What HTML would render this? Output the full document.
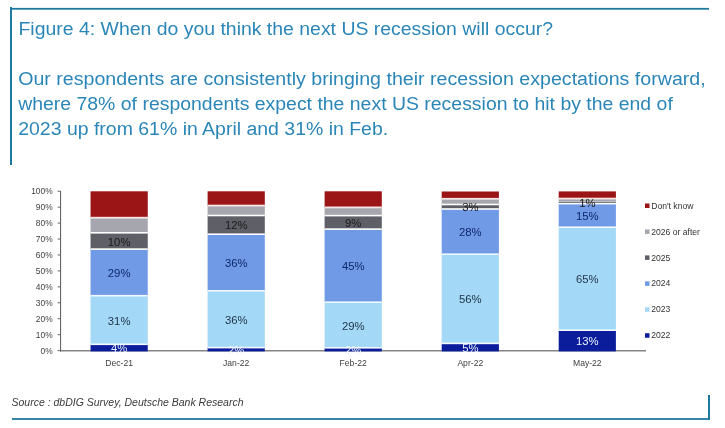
<!DOCTYPE html>
<html><head><meta charset="utf-8"><style>
html,body{margin:0;padding:0;background:#fff;width:725px;height:428px;overflow:hidden}
svg{display:block;filter:blur(0.3px)}
text{font-family:"Liberation Sans",sans-serif}
</style></head><body>
<svg width="725" height="428" viewBox="0 0 725 428">
<rect x="0" y="0" width="725" height="428" fill="#fff"/>

<rect x="10" y="7.9" width="699" height="1.8" fill="#1f7aa0"/>
<rect x="10" y="7" width="2" height="158" fill="#1f7aa0"/>
<rect x="12" y="418.1" width="698" height="1.8" fill="#1f7aa0"/>
<rect x="708" y="395" width="2" height="25" fill="#1f7aa0"/>
<text x="18.5" y="34.5" font-size="17.6" fill="#2b86b8" textLength="534.5" lengthAdjust="spacingAndGlyphs" >Figure 4: When do you think the next US recession will occur?</text>
<text x="18.2" y="84.9" font-size="17.6" fill="#2b86b8" textLength="687.5" lengthAdjust="spacingAndGlyphs" >Our respondents are consistently bringing their recession expectations forward,</text>
<text x="18.2" y="109.7" font-size="17.6" fill="#2b86b8" textLength="654.6" lengthAdjust="spacingAndGlyphs" >where 78% of respondents expect the next US recession to hit by the end of</text>
<text x="18.2" y="134.5" font-size="17.6" fill="#2b86b8" textLength="370" lengthAdjust="spacingAndGlyphs" >2023 up from 61% in April and 31% in Feb.</text>
<text x="11.5" y="405.7" font-size="11.4" fill="#3a3a3a" font-style="italic" textLength="232" lengthAdjust="spacingAndGlyphs">Source : dbDIG Survey, Deutsche Bank Research</text>
<rect x="60" y="191" width="1.1" height="160.5" fill="#666666"/>
<rect x="57.6" y="350.10" width="3" height="1" fill="#666666"/>
<text x="52.6" y="353.50" font-size="8.4" fill="#404040" text-anchor="end">0%</text>
<rect x="57.6" y="334.16" width="3" height="1" fill="#666666"/>
<text x="52.6" y="337.56" font-size="8.4" fill="#404040" text-anchor="end">10%</text>
<rect x="57.6" y="318.22" width="3" height="1" fill="#666666"/>
<text x="52.6" y="321.62" font-size="8.4" fill="#404040" text-anchor="end">20%</text>
<rect x="57.6" y="302.28" width="3" height="1" fill="#666666"/>
<text x="52.6" y="305.68" font-size="8.4" fill="#404040" text-anchor="end">30%</text>
<rect x="57.6" y="286.34" width="3" height="1" fill="#666666"/>
<text x="52.6" y="289.74" font-size="8.4" fill="#404040" text-anchor="end">40%</text>
<rect x="57.6" y="270.40" width="3" height="1" fill="#666666"/>
<text x="52.6" y="273.80" font-size="8.4" fill="#404040" text-anchor="end">50%</text>
<rect x="57.6" y="254.46" width="3" height="1" fill="#666666"/>
<text x="52.6" y="257.86" font-size="8.4" fill="#404040" text-anchor="end">60%</text>
<rect x="57.6" y="238.52" width="3" height="1" fill="#666666"/>
<text x="52.6" y="241.92" font-size="8.4" fill="#404040" text-anchor="end">70%</text>
<rect x="57.6" y="222.58" width="3" height="1" fill="#666666"/>
<text x="52.6" y="225.98" font-size="8.4" fill="#404040" text-anchor="end">80%</text>
<rect x="57.6" y="206.64" width="3" height="1" fill="#666666"/>
<text x="52.6" y="210.04" font-size="8.4" fill="#404040" text-anchor="end">90%</text>
<rect x="57.6" y="190.70" width="3" height="1" fill="#666666"/>
<text x="52.6" y="194.10" font-size="8.4" fill="#404040" text-anchor="end">100%</text>
<rect x="60" y="350.2" width="586" height="1.2" fill="#666666"/>
<rect x="90.55" y="344.3" width="57.2" height="7.10" fill="#0c1d9c"/>
<rect x="90.55" y="295.7" width="57.2" height="48.60" fill="#a3d8f6"/>
<rect x="90.55" y="249.1" width="57.2" height="46.60" fill="#7099e6"/>
<rect x="90.55" y="232.8" width="57.2" height="16.30" fill="#5e5f67"/>
<rect x="90.55" y="217.7" width="57.2" height="15.10" fill="#a6a6ae"/>
<rect x="90.55" y="191.3" width="57.2" height="26.40" fill="#9b1517"/>
<rect x="90.55" y="343.50" width="57.2" height="1.6" fill="#f4fbff"/>
<rect x="90.55" y="294.90" width="57.2" height="1.6" fill="#f2f9ff"/>
<rect x="90.55" y="248.30" width="57.2" height="1.6" fill="#ffffff"/>
<rect x="90.55" y="232.00" width="57.2" height="1.6" fill="#ffffff"/>
<rect x="90.55" y="216.80" width="57.2" height="1.8" fill="#f6e6e6"/>
<text x="119.15" y="352.45" font-size="11.3" fill="#eaf3fd" text-anchor="middle">4%</text>
<text x="119.15" y="324.60" font-size="11.3" fill="#1d3246" text-anchor="middle">31%</text>
<text x="119.15" y="277.00" font-size="11.3" fill="#10296a" text-anchor="middle">29%</text>
<text x="119.15" y="245.55" font-size="11.3" fill="#1a1a1a" text-anchor="middle">10%</text>
<text x="119.15" y="365.8" font-size="8.6" fill="#404040" text-anchor="middle">Dec-21</text>
<rect x="207.6" y="347.6" width="57.2" height="3.80" fill="#0c1d9c"/>
<rect x="207.6" y="290.8" width="57.2" height="56.80" fill="#a3d8f6"/>
<rect x="207.6" y="234.2" width="57.2" height="56.60" fill="#7099e6"/>
<rect x="207.6" y="215.5" width="57.2" height="18.70" fill="#5e5f67"/>
<rect x="207.6" y="205.6" width="57.2" height="9.90" fill="#a6a6ae"/>
<rect x="207.6" y="191.3" width="57.2" height="14.30" fill="#9b1517"/>
<rect x="207.6" y="346.80" width="57.2" height="1.6" fill="#f4fbff"/>
<rect x="207.6" y="290.00" width="57.2" height="1.6" fill="#f2f9ff"/>
<rect x="207.6" y="233.40" width="57.2" height="1.6" fill="#ffffff"/>
<rect x="207.6" y="214.70" width="57.2" height="1.6" fill="#ffffff"/>
<rect x="207.6" y="204.70" width="57.2" height="1.8" fill="#f6e6e6"/>
<text x="236.20" y="354.10" font-size="11.3" fill="#eaf3fd" text-anchor="middle">2%</text>
<text x="236.20" y="323.80" font-size="11.3" fill="#1d3246" text-anchor="middle">36%</text>
<text x="236.20" y="267.10" font-size="11.3" fill="#10296a" text-anchor="middle">36%</text>
<text x="236.20" y="229.45" font-size="11.3" fill="#1a1a1a" text-anchor="middle">12%</text>
<text x="236.20" y="365.8" font-size="8.6" fill="#404040" text-anchor="middle">Jan-22</text>
<rect x="324.6" y="347.8" width="57.2" height="3.60" fill="#0c1d9c"/>
<rect x="324.6" y="302.2" width="57.2" height="45.60" fill="#a3d8f6"/>
<rect x="324.6" y="229.1" width="57.2" height="73.10" fill="#7099e6"/>
<rect x="324.6" y="215.6" width="57.2" height="13.50" fill="#5e5f67"/>
<rect x="324.6" y="207.4" width="57.2" height="8.20" fill="#a6a6ae"/>
<rect x="324.6" y="191.3" width="57.2" height="16.10" fill="#9b1517"/>
<rect x="324.6" y="347.00" width="57.2" height="1.6" fill="#f4fbff"/>
<rect x="324.6" y="301.40" width="57.2" height="1.6" fill="#f2f9ff"/>
<rect x="324.6" y="228.30" width="57.2" height="1.6" fill="#ffffff"/>
<rect x="324.6" y="214.80" width="57.2" height="1.6" fill="#ffffff"/>
<rect x="324.6" y="206.50" width="57.2" height="1.8" fill="#f6e6e6"/>
<text x="353.20" y="354.20" font-size="11.3" fill="#eaf3fd" text-anchor="middle">2%</text>
<text x="353.20" y="329.60" font-size="11.3" fill="#1d3246" text-anchor="middle">29%</text>
<text x="353.20" y="270.25" font-size="11.3" fill="#10296a" text-anchor="middle">45%</text>
<text x="353.20" y="226.95" font-size="11.3" fill="#1a1a1a" text-anchor="middle">9%</text>
<text x="353.20" y="365.8" font-size="8.6" fill="#404040" text-anchor="middle">Feb-22</text>
<rect x="441.7" y="343.4" width="57.2" height="8.00" fill="#0c1d9c"/>
<rect x="441.7" y="254.2" width="57.2" height="89.20" fill="#a3d8f6"/>
<rect x="441.7" y="209.0" width="57.2" height="45.20" fill="#7099e6"/>
<rect x="441.7" y="204.5" width="57.2" height="4.50" fill="#5e5f67"/>
<rect x="441.7" y="198.8" width="57.2" height="5.70" fill="#a6a6ae"/>
<rect x="441.7" y="191.5" width="57.2" height="7.30" fill="#9b1517"/>
<rect x="441.7" y="342.60" width="57.2" height="1.6" fill="#f4fbff"/>
<rect x="441.7" y="253.40" width="57.2" height="1.6" fill="#f2f9ff"/>
<rect x="441.7" y="208.20" width="57.2" height="1.6" fill="#ffffff"/>
<rect x="441.7" y="203.70" width="57.2" height="1.6" fill="#ffffff"/>
<rect x="441.7" y="197.90" width="57.2" height="1.8" fill="#f6e6e6"/>
<text x="470.30" y="352.00" font-size="11.3" fill="#eaf3fd" text-anchor="middle">5%</text>
<text x="470.30" y="303.40" font-size="11.3" fill="#1d3246" text-anchor="middle">56%</text>
<text x="470.30" y="236.20" font-size="11.3" fill="#10296a" text-anchor="middle">28%</text>
<text x="470.30" y="211.35" font-size="11.3" fill="#1a1a1a" text-anchor="middle">3%</text>
<text x="470.30" y="365.8" font-size="8.6" fill="#404040" text-anchor="middle">Apr-22</text>
<rect x="558.7" y="330.2" width="57.2" height="21.20" fill="#0c1d9c"/>
<rect x="558.7" y="227.2" width="57.2" height="103.00" fill="#a3d8f6"/>
<rect x="558.7" y="203.6" width="57.2" height="23.60" fill="#7099e6"/>
<rect x="558.7" y="201.4" width="57.2" height="2.20" fill="#5e5f67"/>
<rect x="558.7" y="198.6" width="57.2" height="2.80" fill="#a6a6ae"/>
<rect x="558.7" y="191.4" width="57.2" height="7.20" fill="#9b1517"/>
<rect x="558.7" y="329.40" width="57.2" height="1.6" fill="#f4fbff"/>
<rect x="558.7" y="226.40" width="57.2" height="1.6" fill="#f2f9ff"/>
<rect x="558.7" y="202.80" width="57.2" height="1.6" fill="#ffffff"/>
<rect x="558.7" y="201.25" width="57.2" height="0.3" fill="#ffffff"/>
<rect x="558.7" y="197.70" width="57.2" height="1.8" fill="#f6e6e6"/>
<text x="587.30" y="345.40" font-size="11.3" fill="#eaf3fd" text-anchor="middle">13%</text>
<text x="587.30" y="283.30" font-size="11.3" fill="#1d3246" text-anchor="middle">65%</text>
<text x="587.30" y="220.00" font-size="11.3" fill="#10296a" text-anchor="middle">15%</text>
<text x="587.30" y="207.10" font-size="11.3" fill="#1a1a1a" text-anchor="middle">1%</text>
<text x="587.30" y="365.8" font-size="8.6" fill="#404040" text-anchor="middle">May-22</text>
<rect x="645" y="203.50" width="4.5" height="4.5" fill="#9b1517"/>
<text x="651.2" y="208.60" font-size="8.6" fill="#333">Don't know</text>
<rect x="645" y="229.45" width="4.5" height="4.5" fill="#a6a6ae"/>
<text x="651.2" y="234.55" font-size="8.6" fill="#333">2026 or after</text>
<rect x="645" y="255.40" width="4.5" height="4.5" fill="#5e5f67"/>
<text x="651.2" y="260.50" font-size="8.6" fill="#333">2025</text>
<rect x="645" y="281.35" width="4.5" height="4.5" fill="#7099e6"/>
<text x="651.2" y="286.45" font-size="8.6" fill="#333">2024</text>
<rect x="645" y="307.30" width="4.5" height="4.5" fill="#a3d8f6"/>
<text x="651.2" y="312.40" font-size="8.6" fill="#333">2023</text>
<rect x="645" y="333.25" width="4.5" height="4.5" fill="#0c1d9c"/>
<text x="651.2" y="338.35" font-size="8.6" fill="#333">2022</text>
</svg></body></html>
